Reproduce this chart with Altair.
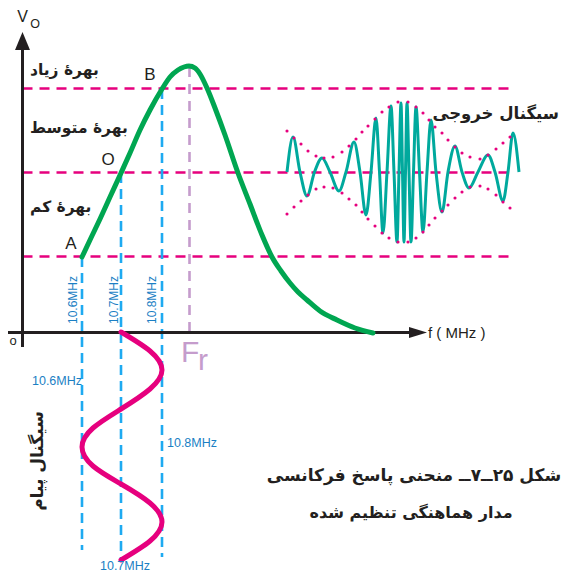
import altair as alt
import pandas as pd

# ---------------- data (diagram units: x to the right, y downward) ----------------
# green frequency-response curve
resp_x = [82, 90, 100, 110, 121, 130, 140, 150, 162, 170, 178, 184, 189, 195, 200, 207, 215, 225, 238, 250, 262, 272, 281, 290, 298, 307, 320, 337, 355, 373]
resp_y = [257, 240, 219, 197, 173, 153, 130, 110, 89, 77, 70, 67, 66, 68, 74, 88, 108, 135, 173, 204, 235, 257, 271, 283, 292, 300, 311, 320, 328, 333]

# magenta message signal (vertical sine below the axis)
msg_y = [332, 351, 370, 389, 409, 428, 447, 466, 484, 503, 522, 541, 560]
msg_x = [121, 150, 162, 150, 121, 93, 82, 93, 121, 150, 162, 150, 121]

# teal output signal
out_x = [287, 293, 300, 307, 314.5, 322, 330, 339, 346, 354, 360, 366, 371, 376, 379.5, 383, 387, 391, 394, 397, 399,
         401, 402.5, 404, 405.5, 407, 409, 411, 413.5, 416, 419.5, 423, 427, 431, 436, 442, 448, 455, 462, 469, 478,
         488, 495, 503, 508, 513, 519]
out_y = [172, 137, 172, 196, 172, 158, 172, 191, 172, 142, 172, 215, 172, 118, 172, 233, 172, 106, 172, 242, 172,
         103, 172, 242, 172, 103, 172, 242, 172, 107, 172, 232, 172, 120, 172, 212, 172, 146, 172, 188, 172,
         155, 172, 201, 172, 133, 172]

# dotted envelope of the output signal
env_x = [287, 294, 301, 308, 316, 324, 333, 342, 349, 356, 362, 368, 375, 382, 389, 398, 408, 416, 423, 429, 435, 442,
         448, 455, 462, 470, 480, 488, 496, 503, 510]
env_up = [131, 138, 144, 151, 156, 158, 157, 152, 146, 139, 132, 126, 119, 112, 107, 102, 102, 107, 113, 120, 127, 133,
          140, 147, 153, 157, 159, 155, 149, 143, 137]
env_lo = [214, 207, 201, 195, 189, 187, 188, 193, 199, 205, 212, 219, 226, 233, 238, 242, 242, 238, 232, 225, 218, 211,
          205, 198, 192, 187, 186, 189, 195, 202, 208]

# gain levels (A, O, B) and frequency markers
level_y = [256.5, 172.5, 88.5]
freq_x = [82, 121, 162]
freq_top = [257, 173, 89]
freq_bottom = [550, 560, 557]
freq_labels = ["10.6MHz", "10.7MHz", "10.8MHz"]
fr_x = 189.5

gain_labels = ["بهرهٔ زیاد", "بهرهٔ متوسط", "بهرهٔ کم"]
point_labels = ["A", "O", "B"]

# ---------------- helpers ----------------
XS = alt.Scale(domain=[8, 561], nice=False, zero=False)
YS = alt.Scale(domain=[8, 573], nice=False, zero=False, reverse=True)


def X(f="x"):
    return alt.X(f"{f}:Q", scale=XS, axis=None)


def Y(f="y"):
    return alt.Y(f"{f}:Q", scale=YS, axis=None)


MAG = "#e6007e"
BLUE_D = "#1eaaf1"
BLUE_T = "#1b7fc4"
LILAC = "#c59ccc"
GREEN = "#00a651"
TEAL = "#00a99d"
BLACK = "#231f20"
FA = "DejaVu Sans"
LAT = "Liberation Sans"


def texts(xs, ys, ts, size, color=BLACK, font=LAT, weight="normal", angle=0, align="center", baseline="middle"):
    df = pd.DataFrame({"x": xs, "y": ys, "t": ts})
    kw = dict(fontSize=size, color=color, font=font, fontWeight=weight, align=align, baseline=baseline)
    if angle:
        kw["angle"] = angle
    return alt.Chart(df).mark_text(**kw).encode(x=X(), y=Y(), text="t:N")


layers = []

# magenta gain-level dashed lines
lv = pd.DataFrame({"y": level_y, "x": [22.5] * 3, "x2": [513] * 3})
layers.append(alt.Chart(lv).mark_rule(color=MAG, strokeWidth=2.3, strokeDash=[10, 7]).encode(
    x=X(), x2="x2:Q", y=Y()))

# blue frequency dashed lines
fv = pd.DataFrame({"x": freq_x, "y": freq_top, "y2": freq_bottom})
layers.append(alt.Chart(fv).mark_rule(color=BLUE_D, strokeWidth=2.6, strokeDash=[10, 6]).encode(
    x=X(), y=Y(), y2="y2:Q"))

# lilac resonance line
rv = pd.DataFrame({"x": [fr_x], "y": [67], "y2": [336]})
layers.append(alt.Chart(rv).mark_rule(color=LILAC, strokeWidth=2.6, strokeDash=[10, 7]).encode(
    x=X(), y=Y(), y2="y2:Q"))

# axes
ax = pd.DataFrame({"x": [22.5, 7], "x2": [22.5, 410], "y": [50, 332.5], "y2": [347, 332.5]})
layers.append(alt.Chart(ax).mark_rule(color=BLACK, strokeWidth=3).encode(
    x=X(), x2="x2:Q", y=Y(), y2="y2:Q"))
arr_up = pd.DataFrame({"x": [22.5], "y": [41]})
layers.append(alt.Chart(arr_up).mark_point(shape="M-0.83,1 L0,-1 L0.83,1 Z", size=324, filled=True,
                                           opacity=1, color=BLACK).encode(x=X(), y=Y()))
arr_rt = pd.DataFrame({"x": [418], "y": [332.5]})
layers.append(alt.Chart(arr_rt).mark_point(shape="M-1,-0.6 L1,0 L-1,0.6 Z", size=324, filled=True,
                                           opacity=1, color=BLACK).encode(x=X(), y=Y()))

# green response curve
gdf = pd.DataFrame({"x": resp_x, "y": resp_y})
layers.append(alt.Chart(gdf).mark_line(color=GREEN, strokeWidth=5, interpolate="monotone", strokeCap="round").encode(
    x=X(), y=Y()))

# magenta message signal
mdf = pd.DataFrame({"x": msg_x, "y": msg_y, "i": list(range(len(msg_x)))})
layers.append(alt.Chart(mdf).mark_line(color=MAG, strokeWidth=5, interpolate="natural", strokeCap="round").encode(
    x=X(), y=Y(), order="i:Q"))

# teal output signal
odf = pd.DataFrame({"x": out_x, "y": out_y})
layers.append(alt.Chart(odf).mark_line(color=TEAL, strokeWidth=3, interpolate="monotone").encode(
    x=X(), y=Y()))

# envelope dots
edf = pd.DataFrame({"x": env_x + env_x, "y": env_up + env_lo})
layers.append(alt.Chart(edf).mark_circle(color=MAG, size=10, opacity=1).encode(x=X(), y=Y()))

# ---------------- text ----------------
layers.append(texts([30, 30, 30], [70, 128, 207], gain_labels, 15.5, font=FA, weight="bold", align="left"))
layers.append(texts([71, 108, 150], [244, 160, 75], point_labels, 17))
layers.append(texts([22.5], [17], ["V"], 16))
layers.append(texts([35], [23.5], ["O"], 12.5))
layers.append(texts([428], [333], ["f ( MHz )"], 15, align="left"))
layers.append(texts([13], [341], ["o"], 13))
layers.append(texts([181], [362], ["F"], 30, color=LILAC, align="left", baseline="alphabetic"))
layers.append(texts([198], [370], ["r"], 30, color=LILAC, align="left", baseline="alphabetic"))
layers.append(texts([73, 114, 152], [300, 300, 300], freq_labels, 12, color=BLUE_T, angle=270))
layers.append(texts([57, 125, 192], [381, 566, 443], freq_labels, 12.5, color=BLUE_T))
layers.append(texts([559], [114], ["سیگنال خروجی"], 16.5, font=FA, weight="bold", align="right"))
layers.append(texts([38], [461], ["سیگنال پیام"], 17, font=FA, weight="bold", angle=270))
layers.append(texts([414], [476], ["شکل ۲۵ــ۷ــ منحنی پاسخ فرکانسی"], 17, font=FA, weight="bold"))
layers.append(texts([411], [513], ["مدار هماهنگی تنظیم شده"], 16, font=FA, weight="bold"))

chart = alt.layer(*layers).properties(
    width=553, height=565, padding=0, autosize=alt.AutoSizeParams(type="none")
).configure_view(stroke=None)

chart.save("out.html", embed_options={"renderer": "svg", "actions": False})
